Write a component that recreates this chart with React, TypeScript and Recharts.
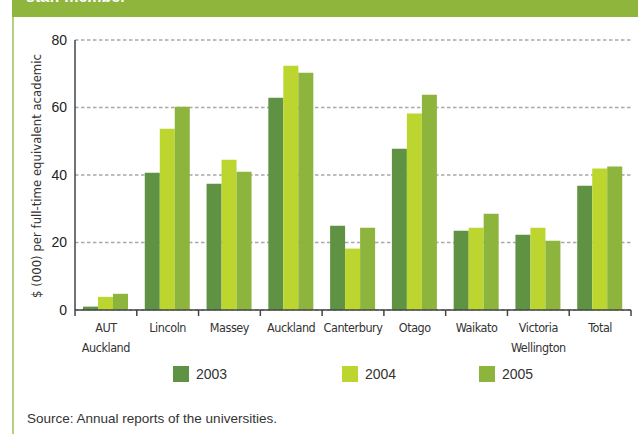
import { BarChart, Bar, XAxis, YAxis, CartesianGrid } from 'recharts'

const universities = [
  'AUT\nAuckland',
  'Lincoln',
  'Massey',
  'Auckland',
  'Canterbury',
  'Otago',
  'Waikato',
  'Victoria\nWellington',
  'Total',
]
const values2003 = [1.0, 40.7, 37.4, 62.9, 25.0, 47.8, 23.5, 22.3, 36.8]
const values2004 = [3.9, 53.7, 44.5, 72.4, 18.2, 58.2, 24.4, 24.4, 41.9]
const values2005 = [4.8, 60.2, 41.0, 70.3, 24.4, 63.8, 28.5, 20.5, 42.5]
const yTicks = [0, 20, 40, 60, 80]

const years = [
  { key: 'y2003', label: '2003', color: '#5f9242' },
  { key: 'y2004', label: '2004', color: '#bdd62f' },
  { key: 'y2005', label: '2005', color: '#8db43d' },
]

const data = universities.map((name, i) => ({
  name,
  y2003: values2003[i],
  y2004: values2004[i],
  y2005: values2005[i],
}))

const narrow = "'DejaVu Sans Condensed', 'Liberation Sans', sans-serif"
const regular = "'Liberation Sans', Arial, sans-serif"

const PLOT_LEFT = 75
const PLOT_RIGHT = 631
const BAND = (PLOT_RIGHT - PLOT_LEFT) / universities.length

function CategoryTick(props: any) {
  const { x, y, payload, index } = props
  const lines = String(payload.value).split('\n')
  return (
    <g>
      <line x1={x - BAND / 2} x2={x - BAND / 2} y1={y - 8} y2={y - 2} stroke="#444" strokeWidth={1.5} />
      {index === universities.length - 1 && (
        <line x1={x + BAND / 2} x2={x + BAND / 2} y1={y - 8} y2={y - 2} stroke="#444" strokeWidth={1.5} />
      )}
      {lines.map((l, i) => (
        <text
          key={i}
          x={x}
          y={y + 14 + i * 20}
          textAnchor="middle"
          fontSize={12.5}
          letterSpacing={-0.45}
          fontFamily={narrow}
          fill="#333"
        >
          {l}
        </text>
      ))}
    </g>
  )
}

export default function App() {
  return (
    <div style={{ position: 'absolute', left: 0, top: 0, width: 638, height: 434, background: '#fff', overflow: 'hidden' }}>
      {/* header band, title is cut off at the top like the source */}
      <div style={{ position: 'absolute', left: 12, top: 0, right: 0, height: 17, background: '#8fb53d' }} />
      <div
        style={{
          position: 'absolute', left: 26, top: -12, color: '#fff', fontFamily: regular,
          fontWeight: 'bold', fontSize: 16, whiteSpace: 'nowrap',
        }}
      >
        staff member
      </div>
      <div style={{ position: 'absolute', left: 12, top: 17, width: 2, bottom: 0, background: '#b3d07e' }} />

      <BarChart
        width={638}
        height={434}
        data={data}
        margin={{ top: 40, right: 638 - PLOT_RIGHT, bottom: 64, left: 0 }}
        barCategoryGap={8}
        barGap={0}
        style={{ position: 'absolute', left: 0, top: 0 }}
      >
        <CartesianGrid vertical={false} stroke="#a8a8a8" strokeWidth={1.5} strokeDasharray="3.5 2.5" />
        <XAxis
          dataKey="name"
          height={60}
          interval={0}
          axisLine={{ stroke: '#444', strokeWidth: 1.5 }}
          tickLine={false}
          tick={<CategoryTick />}
        />
        <YAxis
          width={PLOT_LEFT}
          domain={[0, 80]}
          ticks={yTicks}
          axisLine={{ stroke: '#444', strokeWidth: 1.5 }}
          tickLine={false}
          tick={{ fill: '#222', fontSize: 14, fontFamily: regular }}
        />
        {years.map((s) => (
          <Bar key={s.key} dataKey={s.key} fill={s.color} isAnimationActive={false} />
        ))}
      </BarChart>

      {/* y axis title */}
      <div
        style={{
          position: 'absolute', left: 36, top: 176, transform: 'translate(-50%, -50%) rotate(-90deg)',
          whiteSpace: 'nowrap', fontFamily: narrow, fontSize: 13, color: '#333',
        }}
      >
        $ (000) per full-time equivalent academic
      </div>

      {/* legend */}
      {years.map((s, i) => (
        <div key={s.key} style={{ position: 'absolute', left: [173, 342, 479][i], top: 366, display: 'flex', alignItems: 'center' }}>
          <div style={{ width: 16, height: 16, background: s.color }} />
          <span style={{ marginLeft: 7, fontFamily: regular, fontSize: 14, color: '#333' }}>{s.label}</span>
        </div>
      ))}

      <div style={{ position: 'absolute', left: 27, top: 411, fontFamily: regular, fontSize: 13.5, color: '#333', whiteSpace: 'nowrap' }}>
        Source: Annual reports of the universities.
      </div>
    </div>
  )
}
